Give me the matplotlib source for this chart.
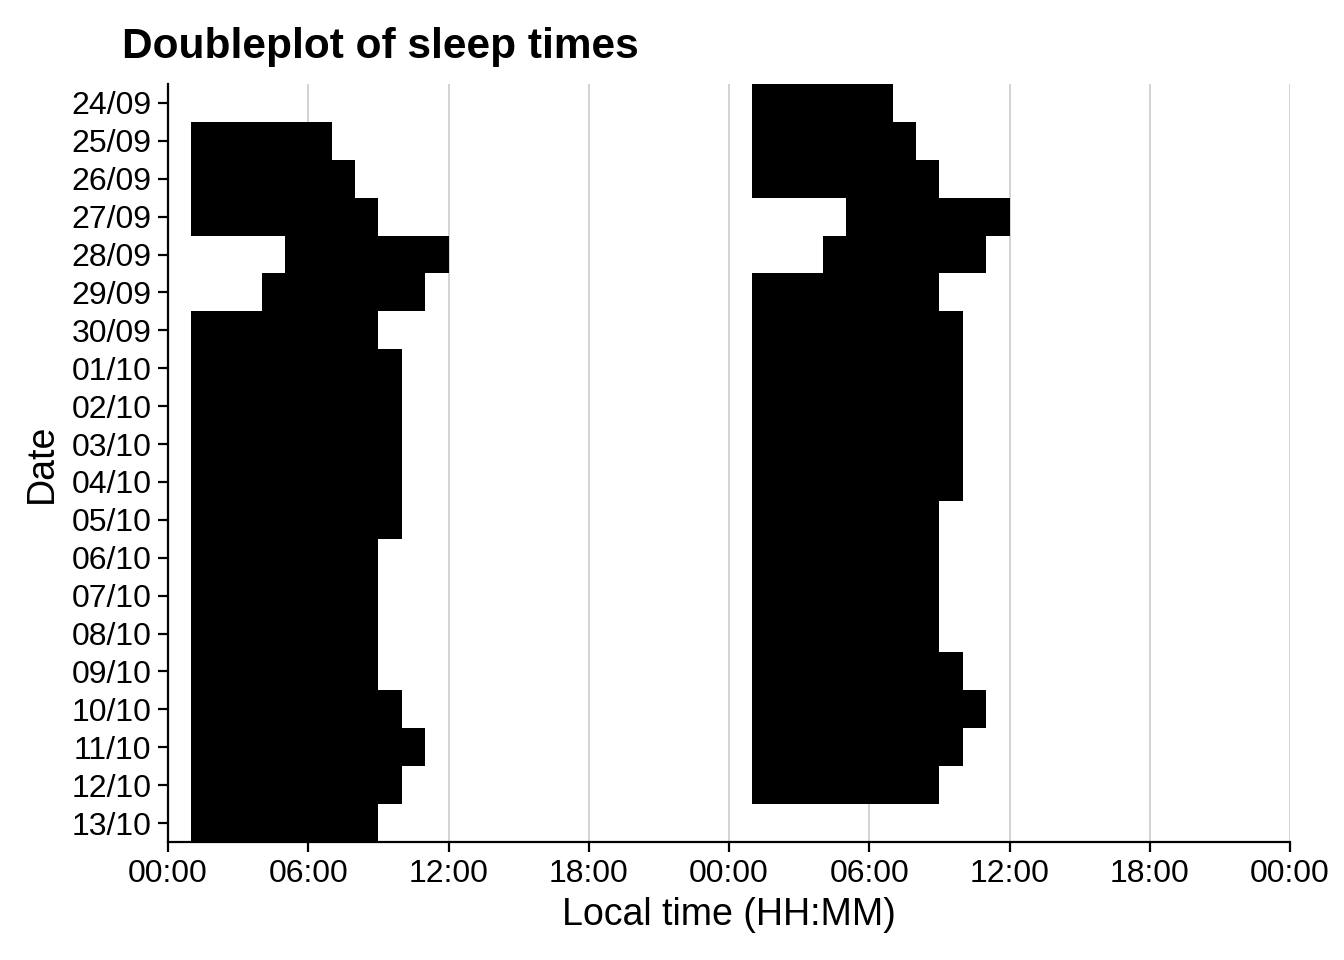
import numpy as np
import matplotlib
matplotlib.use("Agg")
import matplotlib.pyplot as plt

plt.rcParams['font.family'] = ['Liberation Sans', 'DejaVu Sans']

dates = ['24/09', '25/09', '26/09', '27/09', '28/09', '29/09', '30/09',
         '01/10', '02/10', '03/10', '04/10', '05/10', '06/10', '07/10',
         '08/10', '09/10', '10/10', '11/10', '12/10', '13/10']
# sleep onset / wake time (hours) for each date; None = no record
sleep_start = [None, 1, 1, 1, 5, 4, 1, 1, 1, 1, 1, 1, 1, 1, 1, 1, 1, 1, 1, 1]
sleep_end = [None, 7, 8, 9, 12, 11, 9, 10, 10, 10, 10, 10, 9, 9, 9, 9, 10, 11, 10, 9]
x_ticks = [0, 6, 12, 18, 24, 30, 36, 42, 48]
x_labels = ['00:00', '06:00', '12:00', '18:00', '00:00', '06:00', '12:00', '18:00', '00:00']

fig = plt.figure(figsize=(13.44, 9.6), dpi=100)
ax = fig.add_axes([168/1344, 1 - 842/960, (1290 - 168)/1344, (842 - 84)/960])

n = len(dates)
for i in range(n):
    y = i
    # left half: this date's sleep
    if sleep_start[i] is not None:
        ax.barh(y, sleep_end[i] - sleep_start[i], left=sleep_start[i], height=1.0,
                color='black', linewidth=0, zorder=2)
    # right half: next date's sleep, shifted by 24h
    if i + 1 < n and sleep_start[i + 1] is not None:
        ax.barh(y, sleep_end[i + 1] - sleep_start[i + 1], left=sleep_start[i + 1] + 24,
                height=1.0, color='black', linewidth=0, zorder=2)

ax.set_xlim(0, 48)
ax.set_ylim(n - 0.5, -0.5)
ax.set_xticks(x_ticks)
ax.set_xticklabels(x_labels)
ax.set_yticks(range(n))
ax.set_yticklabels(dates)

ax.grid(axis='x', color='#c8c8c8', linewidth=1.1, zorder=0)
ax.set_axisbelow(True)
for s in ['top', 'right']:
    ax.spines[s].set_visible(False)
for s in ['left', 'bottom']:
    ax.spines[s].set_linewidth(1.6)
    ax.spines[s].set_color('black')
ax.tick_params(axis='both', which='major', length=7, width=1.6, color='black',
               labelsize=23, labelcolor='black', pad=5)

ax.set_xlabel('Local time (HH:MM)', fontsize=27, labelpad=6)
ax.set_ylabel('Date', fontsize=27, labelpad=8)
fig.text(122/1344, 1 - 47/960, 'Doubleplot of sleep times', fontsize=30.5,
         fontweight='bold', ha='left', va='center')

fig.savefig('out.png', dpi=100, facecolor='white')
